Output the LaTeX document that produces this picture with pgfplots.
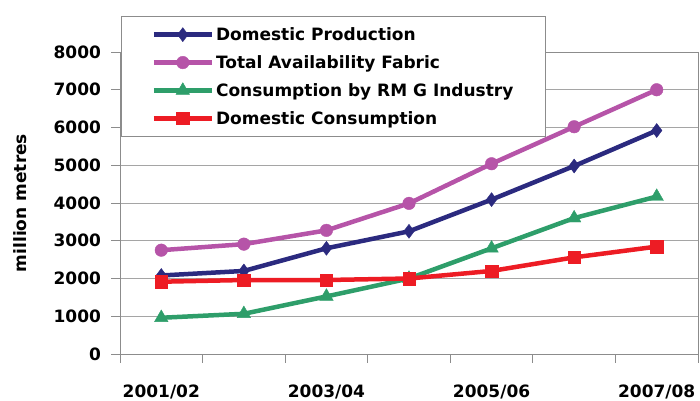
\documentclass[border=0pt]{standalone}
\usepackage{fontspec}
\setmainfont{DejaVu Sans}
\usepackage{pgfplots}
\pgfplotsset{compat=1.18}
\definecolor{cNavy}{RGB}{43,42,127}
\definecolor{cMag}{RGB}{182,84,168}
\definecolor{cGreen}{RGB}{46,158,106}
\definecolor{cRed}{RGB}{237,28,36}
\definecolor{cFrame}{RGB}{140,140,140}
\definecolor{cGrid}{RGB}{165,165,165}
\newcommand\lbl{\fontsize{17bp}{20bp}\selectfont\bfseries}
\begin{document}
\begin{tikzpicture}
\useasboundingbox (-120bp,-47bp) rectangle (580bp,354bp);
\begin{axis}[
  at={(0,0)}, anchor=south west,
  scale only axis, width=578bp, height=302bp,
  xmin=-0.5, xmax=6.5, ymin=0, ymax=8000,
  xtick={-0.5,0.5,...,6.5},
  x tick label as interval,
  xticklabels={2001/02,,2003/04,,2005/06,,2007/08},
  ytick={0,1000,...,8000},
  ymajorgrids, major grid style={cGrid, line width=0.8bp},
  tick pos=left, tick align=outside,
  major tick length=8.5bp,
  tick style={cFrame, line width=0.8bp},
  axis line style={cFrame, line width=0.9bp},
  /pgf/number format/assume math mode=true,
  /pgf/number format/1000 sep={},
  tick label style={font=\lbl, text=black},
  yticklabel style={xshift=-7bp},
  xticklabel style={yshift=-19bp},
  every axis y label/.style={at={(axis description cs:-0.173,0.5)}, rotate=90, anchor=center, font=\lbl},
  ylabel={million metres},
  legend style={at={(axis description cs:0.002,1.119)}, anchor=north west,
    draw=cFrame, line width=0.8bp, fill=white, font=\lbl,
    inner xsep=30bp, inner ysep=9bp, row sep=9.5bp},
  legend cell align=left,
  legend image code/.code={\draw[mark repeat=2,mark phase=2,#1] plot coordinates {(0bp,0bp) (29bp,0bp) (58bp,0bp)};},
  every axis plot/.append style={line width=4.5bp},
]
\addplot[cNavy, mark=diamond*, mark size=7bp, mark options={solid, line width=0.4bp}] coordinates {(0,2080) (1,2200) (2,2800) (3,3250) (4,4090) (5,4980) (6,5920)};
\addlegendentry{Domestic Production}
\addplot[cMag, mark=*, mark size=6.3bp, mark options={solid, line width=0.4bp}] coordinates {(0,2750) (1,2910) (2,3275) (3,3990) (4,5040) (5,6020) (6,7000)};
\addlegendentry{Total Availability Fabric}
\addplot[cGreen, mark=triangle*, mark size=7.8bp, mark options={solid, line width=0.4bp}] coordinates {(0,960) (1,1065) (2,1525) (3,2000) (4,2800) (5,3600) (6,4170)};
\addlegendentry{Consumption by RM G Industry}
\addplot[cRed, mark=square*, mark size=6.2bp, mark options={solid, line width=0.4bp}] coordinates {(0,1915) (1,1960) (2,1960) (3,2000) (4,2200) (5,2560) (6,2845)};
\addlegendentry{Domestic Consumption}
\end{axis}
\end{tikzpicture}
\end{document}
